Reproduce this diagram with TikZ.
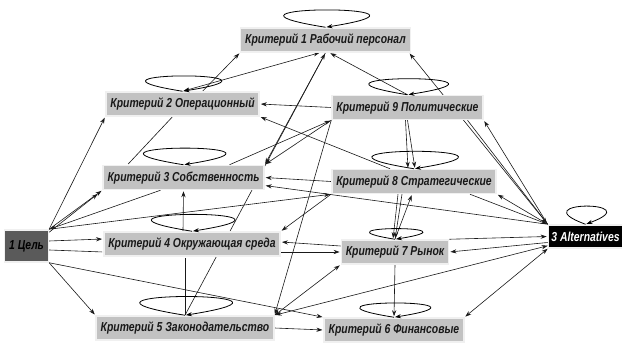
\documentclass[tikz,border=0pt]{standalone}
\usepackage{fontspec}
\newfontfamily\critfont{Liberation Sans}[FakeStretch=0.8]
\usetikzlibrary{arrows.meta}
\usetikzlibrary{backgrounds}
\definecolor{boxgray}{HTML}{C2C2C2}
\definecolor{goalgray}{HTML}{5A5A5A}
\tikzset{
  crit/.style={fill=boxgray,draw=black!6,line width=1.5pt,minimum height=24pt,
    inner xsep=4.5pt,text=black!90,font=\critfont\bfseries\itshape\fontsize{13}{15}\selectfont},
  goalbox/.style={crit,fill=goalgray,minimum width=43pt,minimum height=32pt,text=black},
  altbox/.style={crit,fill=black,text=white,minimum height=23pt,inner xsep=3pt},
  link/.style={->,line width=0.6pt,black!90},
  selfloop/.style={->,line width=0.8pt,black,out=171,in=9,distance=#1},
  selfloop/.default=130pt
}
\begin{document}
\begin{tikzpicture}[x=1pt,y=1pt,>={Stealth[length=6pt,width=4.2pt]},shorten >=1pt]
  \useasboundingbox (0,0) rectangle (622,345);
  \node[goalbox] (g)   at (26.5,99)    {1 Цель};
  \node[crit]    (k_1) at (325.5,305)  {Критерий 1 Рабочий персонал};
  \node[crit]    (k_2) at (182.5,241)  {Критерий 2 Операционный};
  \node[crit]    (k_3) at (183.5,167.5){Критерий 3 Собственность};
  \node[crit]    (k_4) at (192,101)    {Критерий 4 Окружающая среда};
  \node[crit]    (k_5) at (185,17)     {Критерий 5 Законодательство};
  \node[crit]    (k_6) at (394,15)     {Критерий 6 Финансовые};
  \node[crit]    (k_7) at (395,93)     {Критерий 7 Рынок};
  \node[crit]    (k_8) at (414,163.5)  {Критерий 8 Стратегические};
  \node[crit]    (k_9) at (407.5,237.5){Критерий 9 Политические};
  \node[altbox]  (alt) at (585.5,108.5){3 Alternatives};

  \begin{scope}[on background layer]
  \path[link]
    (g.north east) edge (k_2.south west)
    (g.north east) edge (k_3.south west)
    ([yshift=-3pt]g.north east) edge[shorten >=6pt] (k_3.south west)
    ([xshift=-23pt]k_3.south) edge (g.north east)
    (g.north east) edge (k_8.south west)
    ([yshift=5pt]g.east) edge ([yshift=5pt]k_4.west)
    ([yshift=-4pt]g.east) edge[-] ([yshift=-8pt]k_4.west)
    (g.south east) edge (k_5.north west)
    (g.south east) edge (k_6.north west)
    ([xshift=20pt]k_2.north) edge (k_1.south west)
    ([xshift=-6pt]k_1.south) edge[<->] (k_2.north)
    (k_1.south) edge (k_3.north east)
    (k_5.north) edge (k_1.south)
    (k_9.north) edge ([xshift=4pt]k_1.south)
    (alt.north west) edge ([xshift=-2pt]k_1.south east)
    (k_9.west) edge (k_2.east)
    ([xshift=-24pt]k_8.north) edge (k_2.south east)
    ([xshift=46pt]k_3.north) edge (k_9.south west)
    (k_9.south west) edge (k_3.north east)
    (k_9.south west) edge (k_5.north east)
    ([xshift=-2pt]k_9.south) edge ([xshift=-6pt]k_8.north)
    (k_9.south) edge ([xshift=1pt]k_8.north)
    ([xshift=60pt]k_9.south) edge (alt.north west)
    (alt.north west) edge (k_9.south east)
    (k_8.west) edge (k_3.east)
    (alt.north west) edge ([yshift=-8pt]k_3.east)
    (k_8.south west) edge (k_4.north east)
    ([xshift=-16pt]k_8.south) edge ([xshift=-2pt]k_7.north)
    ([xshift=-12pt]k_8.south) edge (k_7.north)
    (k_7.north) edge ([xshift=-2pt]k_8.south)
    ([xshift=56pt]k_8.south) edge (alt.north west)
    (alt.north west) edge (k_8.south east)
    ([yshift=6pt]k_7.west) edge ([yshift=2pt]k_4.east)
    ([yshift=-8pt]k_4.east) edge (k_7.west)
    (k_5.north east) edge[<->] (k_7.south west)
    (k_7.south) edge (k_6.north)
    (k_7.north east) edge (alt.west)
    ([yshift=-6pt]alt.west) edge (k_7.east)
    (k_5.east) edge (k_6.west)
    (alt.south west) edge[<->] (k_6.north east)
    ([yshift=3pt]alt.south west) edge[<->] (k_5.north east)
    ([xshift=-10pt]k_2.south) edge[-] ([xshift=-56pt]k_3.north)
    ([xshift=-9pt]k_4.north) edge (k_3.south)
    (k_5.north) edge[-] ([xshift=-7pt]k_4.south);
  \end{scope}

  % self loops
  \path
    (k_1.north) edge[selfloop=147pt] (k_1.north)
    (k_2.north) edge[selfloop=130pt] (k_2.north)
    (k_3.north) edge[selfloop=141pt] (k_3.north)
    (k_4.north) edge[selfloop=143pt] (k_4.north)
    (k_5.north) edge[selfloop=159pt] (k_5.north)
    (k_6.north) edge[selfloop=121pt] (k_6.north)
    (k_7.north) edge[selfloop=90pt]  (k_7.north)
    (k_8.north) edge[selfloop=148pt] (k_8.north)
    (k_9.north) edge[selfloop=136pt] (k_9.north)
    (alt.north) edge[selfloop=70pt,out=160,in=20] (alt.north);
\end{tikzpicture}
\end{document}
